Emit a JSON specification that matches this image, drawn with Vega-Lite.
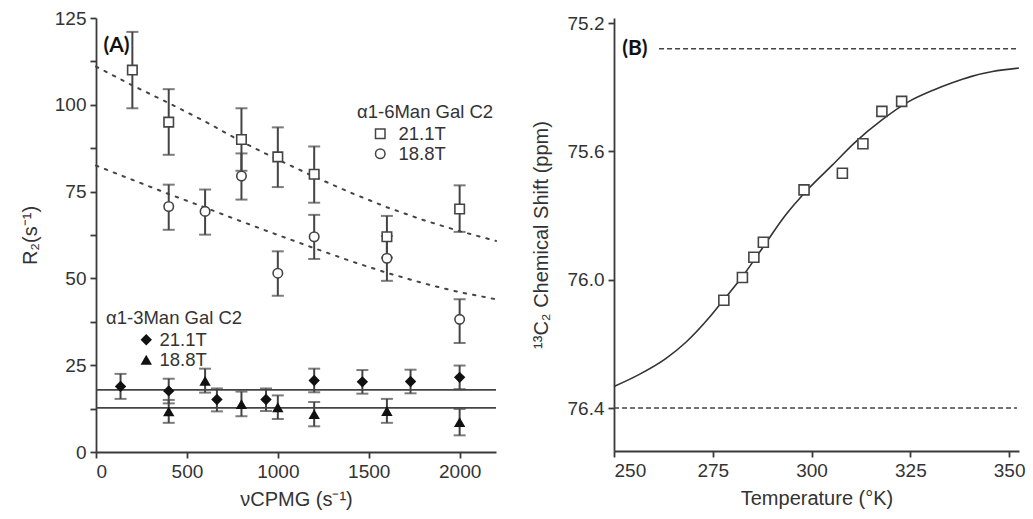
{
  "$schema": "https://vega.github.io/schema/vega-lite/v6.json",
  "background": "white",
  "padding": {"left": 20, "top": 9, "right": 5, "bottom": 5},
  "bounds": "flush",
  "spacing": 118,
  "config": {
    "font": "Liberation Sans",
    "view": {"stroke": null},
    "axis": {
      "grid": false,
      "domainColor": "#3a3a3a",
      "domainWidth": 1.8,
      "tickColor": "#3a3a3a",
      "tickWidth": 1.8,
      "tickSize": 6,
      "labelFont": "Liberation Sans",
      "labelFontSize": 19,
      "labelColor": "#333333",
      "labelPadding": 4,
      "titleFont": "Liberation Sans",
      "titleFontSize": 20,
      "titleFontWeight": "normal",
      "titleColor": "#333333"
    },
    "legend": {
      "titleFont": "Liberation Sans",
      "labelFont": "Liberation Sans",
      "titleFontSize": 18.5,
      "labelFontSize": 18.5,
      "titleFontWeight": "normal",
      "titleColor": "#333333",
      "labelColor": "#333333",
      "titlePadding": 3,
      "rowPadding": 1
    }
  },
  "datasets": {
    "pointsA": [
      {"group": "a16", "field": "21.1T", "nu": 200, "r2": 110.0, "lo": 99.0, "hi": 121.0},
      {"group": "a16", "field": "21.1T", "nu": 400, "r2": 95.0, "lo": 85.6, "hi": 104.5},
      {"group": "a16", "field": "21.1T", "nu": 800, "r2": 90.0, "lo": 81.0, "hi": 99.0},
      {"group": "a16", "field": "21.1T", "nu": 1000, "r2": 85.0, "lo": 76.3, "hi": 93.5},
      {"group": "a16", "field": "21.1T", "nu": 1200, "r2": 80.0, "lo": 71.8, "hi": 88.0},
      {"group": "a16", "field": "21.1T", "nu": 1600, "r2": 62.0, "lo": 56.0, "hi": 68.0},
      {"group": "a16", "field": "21.1T", "nu": 2000, "r2": 70.0, "lo": 63.4, "hi": 76.8},
      {"group": "a16", "field": "18.8T", "nu": 400, "r2": 70.7, "lo": 64.0, "hi": 77.0},
      {"group": "a16", "field": "18.8T", "nu": 600, "r2": 69.3, "lo": 62.6, "hi": 75.6},
      {"group": "a16", "field": "18.8T", "nu": 800, "r2": 79.5, "lo": 72.7, "hi": 86.0},
      {"group": "a16", "field": "18.8T", "nu": 1000, "r2": 51.5, "lo": 45.0, "hi": 57.8},
      {"group": "a16", "field": "18.8T", "nu": 1200, "r2": 62.0, "lo": 55.6, "hi": 68.3},
      {"group": "a16", "field": "18.8T", "nu": 1600, "r2": 55.8, "lo": 49.3, "hi": 62.2},
      {"group": "a16", "field": "18.8T", "nu": 2000, "r2": 38.2, "lo": 31.4, "hi": 44.0},
      {"group": "a13", "field": "21.1T", "nu": 135, "r2": 18.9, "lo": 15.3, "hi": 22.5},
      {"group": "a13", "field": "21.1T", "nu": 400, "r2": 17.6, "lo": 14.0, "hi": 21.1},
      {"group": "a13", "field": "21.1T", "nu": 665, "r2": 15.1, "lo": 11.7, "hi": 18.3},
      {"group": "a13", "field": "21.1T", "nu": 935, "r2": 15.1, "lo": 11.8, "hi": 18.3},
      {"group": "a13", "field": "21.1T", "nu": 1200, "r2": 20.6, "lo": 17.2, "hi": 24.0},
      {"group": "a13", "field": "21.1T", "nu": 1465, "r2": 20.2, "lo": 16.8, "hi": 23.6},
      {"group": "a13", "field": "21.1T", "nu": 1730, "r2": 20.3, "lo": 16.9, "hi": 23.7},
      {"group": "a13", "field": "21.1T", "nu": 2000, "r2": 21.5, "lo": 18.1, "hi": 24.9},
      {"group": "a13", "field": "18.8T", "nu": 400, "r2": 11.7, "lo": 8.4, "hi": 15.0},
      {"group": "a13", "field": "18.8T", "nu": 600, "r2": 20.5, "lo": 17.1, "hi": 24.0},
      {"group": "a13", "field": "18.8T", "nu": 800, "r2": 13.8, "lo": 10.3, "hi": 17.4},
      {"group": "a13", "field": "18.8T", "nu": 1000, "r2": 12.9, "lo": 9.5, "hi": 16.3},
      {"group": "a13", "field": "18.8T", "nu": 1200, "r2": 10.9, "lo": 7.4, "hi": 14.4},
      {"group": "a13", "field": "18.8T", "nu": 1600, "r2": 11.8, "lo": 8.4, "hi": 15.3},
      {"group": "a13", "field": "18.8T", "nu": 2000, "r2": 8.6, "lo": 4.8, "hi": 12.4}
    ],
    "curvesA": [
      {"series": "upper", "nu": 0, "r2": 111.0},
      {"series": "upper", "nu": 200, "r2": 105.6},
      {"series": "upper", "nu": 400, "r2": 100.5},
      {"series": "upper", "nu": 600, "r2": 95.2},
      {"series": "upper", "nu": 800, "r2": 89.4},
      {"series": "upper", "nu": 1000, "r2": 84.2},
      {"series": "upper", "nu": 1200, "r2": 79.3},
      {"series": "upper", "nu": 1400, "r2": 74.7},
      {"series": "upper", "nu": 1600, "r2": 70.5},
      {"series": "upper", "nu": 1800, "r2": 66.8},
      {"series": "upper", "nu": 2000, "r2": 63.6},
      {"series": "upper", "nu": 2200, "r2": 60.8},
      {"series": "lower", "nu": 0, "r2": 82.5},
      {"series": "lower", "nu": 200, "r2": 78.4},
      {"series": "lower", "nu": 400, "r2": 74.3},
      {"series": "lower", "nu": 600, "r2": 70.4},
      {"series": "lower", "nu": 800, "r2": 66.4},
      {"series": "lower", "nu": 1000, "r2": 62.5},
      {"series": "lower", "nu": 1200, "r2": 58.7},
      {"series": "lower", "nu": 1400, "r2": 55.0},
      {"series": "lower", "nu": 1600, "r2": 51.6},
      {"series": "lower", "nu": 1800, "r2": 48.6},
      {"series": "lower", "nu": 2000, "r2": 46.0},
      {"series": "lower", "nu": 2200, "r2": 44.0}
    ],
    "flatA": [
      {"level": 17.9},
      {"level": 12.7}
    ],
    "pointsB": [
      {"temp": 277.8, "shift": 76.064},
      {"temp": 282.5, "shift": 75.993},
      {"temp": 285.4, "shift": 75.930},
      {"temp": 287.8, "shift": 75.883},
      {"temp": 298.1, "shift": 75.720},
      {"temp": 307.8, "shift": 75.668},
      {"temp": 313.0, "shift": 75.576},
      {"temp": 317.8, "shift": 75.475},
      {"temp": 322.8, "shift": 75.444}
    ],
    "curveB": [
      {"temp": 250.0, "shift": 76.333},
      {"temp": 256.3, "shift": 76.296},
      {"temp": 263.1, "shift": 76.246},
      {"temp": 268.2, "shift": 76.195},
      {"temp": 274.1, "shift": 76.118},
      {"temp": 277.6, "shift": 76.065},
      {"temp": 282.5, "shift": 75.990},
      {"temp": 287.8, "shift": 75.897},
      {"temp": 293.0, "shift": 75.805},
      {"temp": 299.4, "shift": 75.714},
      {"temp": 305.3, "shift": 75.642},
      {"temp": 310.8, "shift": 75.574},
      {"temp": 317.9, "shift": 75.501},
      {"temp": 324.7, "shift": 75.444},
      {"temp": 330.6, "shift": 75.410},
      {"temp": 335.6, "shift": 75.386},
      {"temp": 340.5, "shift": 75.366},
      {"temp": 345.8, "shift": 75.351},
      {"temp": 352.5, "shift": 75.340}
    ]
  },
  "hconcat": [
    {
      "width": 400,
      "height": 434,
      "resolve": {"scale": {"shape": "independent"}},
      "layer": [
        {
          "data": {"name": "curvesA"},
          "mark": {"type": "line", "color": "#444444", "strokeWidth": 2, "strokeDash": [2.5, 7], "strokeCap": "round"},
          "encoding": {
            "x": {"field": "nu", "type": "quantitative", "title": "νCPMG (s⁻¹)",
                  "scale": {"domain": [0, 2200], "nice": false, "zero": false},
                  "axis": {"values": [0, 500, 1000, 1500, 2000], "format": "d", "titlePadding": 8}},
            "y": {"field": "r2", "type": "quantitative", "title": "R₂(s⁻¹)",
                  "scale": {"domain": [0, 125], "nice": false},
                  "axis": {"values": [0, 12.5, 25, 37.5, 50, 62.5, 75, 87.5, 100, 112.5, 125],
                           "labelExpr": "datum.value % 25 === 0 ? datum.label : ''",
                           "titlePadding": 14}},
            "detail": {"field": "series"}
          }
        },
        {
          "data": {"name": "flatA"},
          "mark": {"type": "rule", "color": "#444444", "strokeWidth": 1.6},
          "encoding": {
            "y": {"field": "level", "type": "quantitative", "title": "R₂(s⁻¹)"}
          }
        },
        {
          "data": {"name": "pointsA"},
          "mark": {"type": "errorbar", "color": "#444444",
                   "rule": {"strokeWidth": 2},
                   "ticks": {"size": 12, "thickness": 2}},
          "encoding": {
            "x": {"field": "nu", "type": "quantitative", "title": "νCPMG (s⁻¹)"},
            "y": {"field": "lo", "type": "quantitative", "title": "R₂(s⁻¹)"},
            "y2": {"field": "hi"}
          }
        },
        {
          "data": {"name": "pointsA"},
          "transform": [{"filter": "datum.group === 'a16'"}],
          "mark": {"type": "point", "filled": true, "color": "white", "opacity": 1, "size": 90},
          "encoding": {
            "x": {"field": "nu", "type": "quantitative", "title": "νCPMG (s⁻¹)"},
            "y": {"field": "r2", "type": "quantitative", "title": "R₂(s⁻¹)"},
            "shape": {"field": "field", "type": "nominal",
                      "scale": {"domain": ["21.1T", "18.8T"], "range": ["square", "circle"]},
                      "legend": null}
          }
        },
        {
          "data": {"name": "pointsA"},
          "transform": [{"filter": "datum.group === 'a16'"}],
          "mark": {"type": "point", "filled": false, "color": "#444444", "strokeWidth": 1.6, "opacity": 1, "size": 90},
          "encoding": {
            "x": {"field": "nu", "type": "quantitative", "title": "νCPMG (s⁻¹)"},
            "y": {"field": "r2", "type": "quantitative", "title": "R₂(s⁻¹)"},
            "shape": {"field": "field", "type": "nominal",
                      "scale": {"domain": ["21.1T", "18.8T"], "range": ["square", "circle"]},
                      "legend": {"title": "α1-6Man Gal C2", "orient": "none", "legendX": 261, "legendY": 85,
                                 "symbolStrokeColor": "#444444", "symbolStrokeWidth": 1.5,
                                 "symbolSize": 90, "symbolOffset": 14, "labelOffset": 9}}
          }
        },
        {
          "data": {"name": "pointsA"},
          "transform": [{"filter": "datum.group === 'a13'"}],
          "mark": {"type": "point", "filled": true, "color": "#111111", "opacity": 1, "size": 130},
          "encoding": {
            "x": {"field": "nu", "type": "quantitative", "title": "νCPMG (s⁻¹)"},
            "y": {"field": "r2", "type": "quantitative", "title": "R₂(s⁻¹)"},
            "shape": {"field": "field", "type": "nominal",
                      "scale": {"domain": ["21.1T", "18.8T"], "range": ["diamond", "triangle-up"]},
                      "legend": {"title": "α1-3Man Gal C2", "orient": "none", "legendX": 10, "legendY": 291,
                                 "symbolFillColor": "#111111", "symbolStrokeColor": "#111111",
                                 "symbolSize": 130, "symbolOffset": 31, "labelOffset": 4}}
          }
        },
        {
          "data": {"values": [{}]},
          "mark": {"type": "text", "text": "(A)", "font": "Lato", "fontWeight": "bold", "fontSize": 21, "color": "#111111"},
          "encoding": {
            "x": {"datum": 113, "type": "quantitative"},
            "y": {"datum": 117, "type": "quantitative"}
          }
        }
      ]
    },
    {
      "width": 405,
      "height": 433,
      "layer": [
        {
          "data": {"values": [{}]},
          "mark": {"type": "rule", "color": "#444444", "strokeWidth": 1.6, "strokeDash": [5, 3]},
          "encoding": {
            "x": {"datum": 261.4, "type": "quantitative"},
            "x2": {"datum": 352.5},
            "y": {"datum": 75.28, "type": "quantitative"}
          }
        },
        {
          "data": {"values": [{}]},
          "mark": {"type": "rule", "color": "#444444", "strokeWidth": 1.6, "strokeDash": [5, 3]},
          "encoding": {
            "x": {"datum": 250, "type": "quantitative"},
            "x2": {"datum": 352},
            "y": {"datum": 76.4, "type": "quantitative"}
          }
        },
        {
          "data": {"name": "curveB"},
          "mark": {"type": "line", "color": "#333333", "strokeWidth": 1.6, "interpolate": "monotone"},
          "encoding": {
            "x": {"field": "temp", "type": "quantitative", "title": "Temperature (°K)",
                  "scale": {"domain": [250, 352.5], "nice": false, "zero": false},
                  "axis": {"values": [250, 275, 300, 325, 350], "titlePadding": 8}},
            "y": {"field": "shift", "type": "quantitative", "title": "¹³C₂ Chemical Shift (ppm)",
                  "scale": {"domain": [75.184, 76.534], "nice": false, "zero": false, "reverse": true},
                  "axis": {"values": [75.2, 75.6, 76.0, 76.4], "format": ".1f", "titlePadding": 16}}
          }
        },
        {
          "data": {"name": "pointsB"},
          "mark": {"type": "point", "shape": "square", "filled": true, "fill": "white", "stroke": "#444444", "strokeWidth": 1.6, "opacity": 1, "size": 100},
          "encoding": {
            "x": {"field": "temp", "type": "quantitative", "title": "Temperature (°K)"},
            "y": {"field": "shift", "type": "quantitative", "title": "¹³C₂ Chemical Shift (ppm)"}
          }
        },
        {
          "data": {"values": [{}]},
          "mark": {"type": "text", "text": "(B)", "font": "Lato", "fontWeight": "bold", "fontSize": 21, "color": "#111111"},
          "encoding": {
            "x": {"datum": 255.3, "type": "quantitative"},
            "y": {"datum": 75.28, "type": "quantitative"}
          }
        }
      ]
    }
  ]
}
